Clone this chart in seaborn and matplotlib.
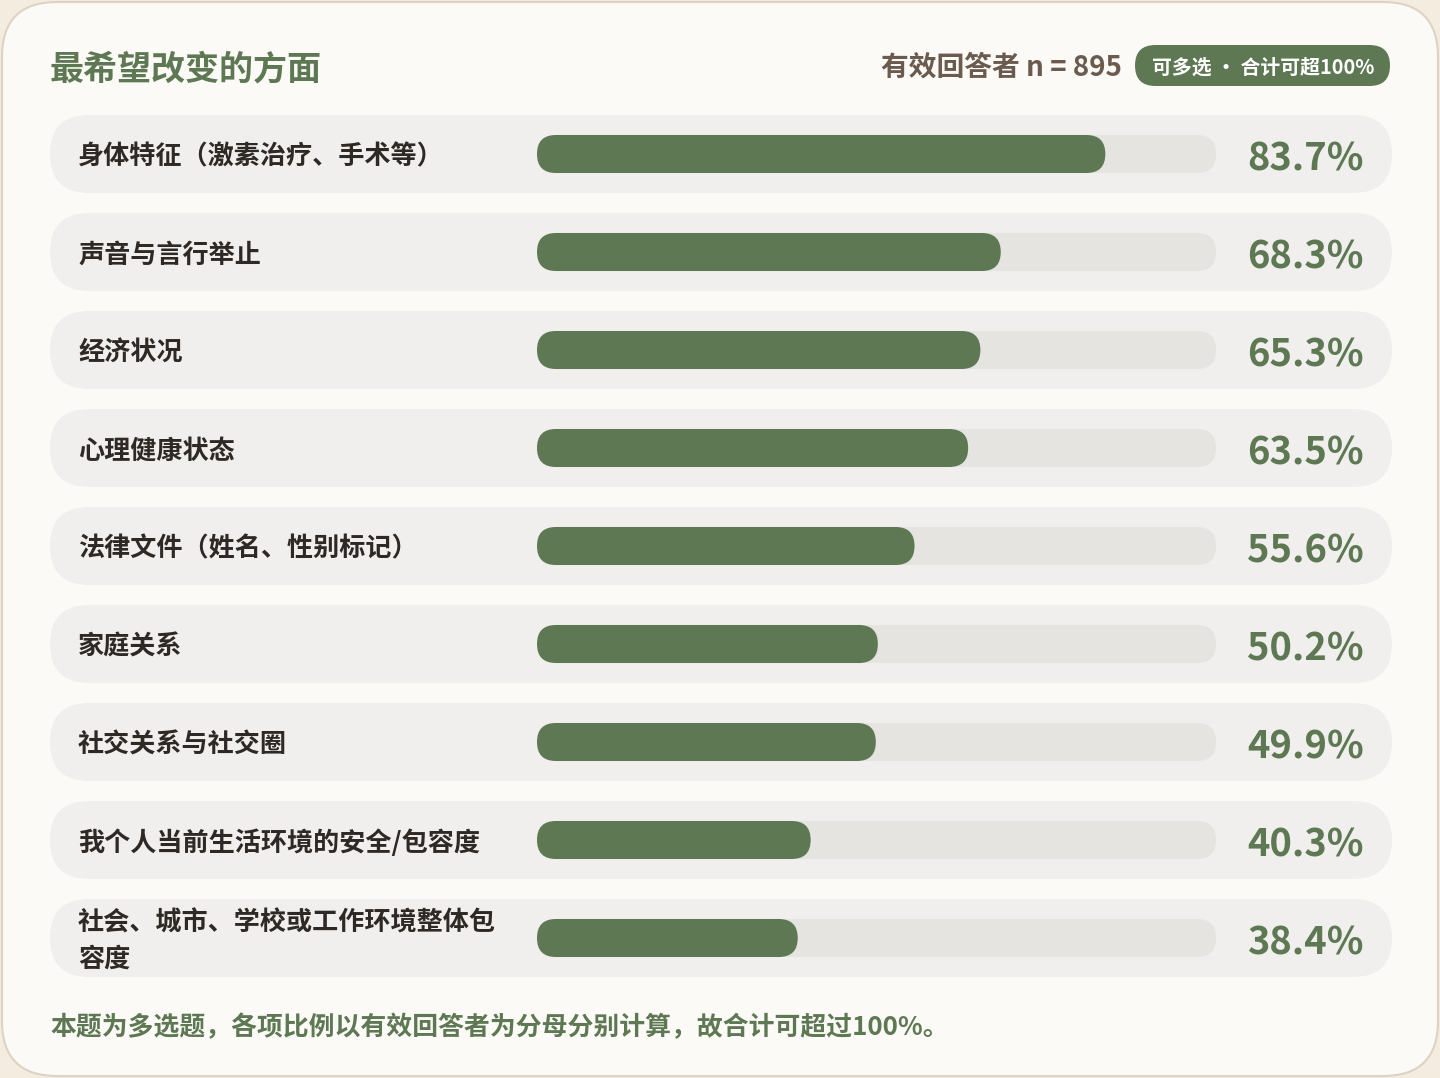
import textwrap
import matplotlib
matplotlib.use("Agg")
import matplotlib.pyplot as plt
from matplotlib.patches import FancyBboxPatch
import pandas as pd
import seaborn as sns

# data
categories = [
    "身体特征（激素治疗、手术等）",
    "声音与言行举止",
    "经济状况",
    "心理健康状态",
    "法律文件（姓名、性别标记）",
    "家庭关系",
    "社交关系与社交圈",
    "我个人当前生活环境的安全/包容度",
    "社会、城市、学校或工作环境整体包容度",
]
percent = [83.7, 68.3, 65.3, 63.5, 55.6, 50.2, 49.9, 40.3, 38.4]
n_valid = 895
title = "最希望改变的方面"
badge = "可多选 · 合计可超100%"
note = "本题为多选题，各项比例以有效回答者为分母分别计算，故合计可超过100%。"

GREEN = "#5d7853"
TRACK = "#e5e4e1"
ROW_BG = "#f0efed"
CARD = "#fbfaf7"
OUTER = "#f3ecdf"
EDGE = "#ddd3c4"
DARK = "#2e2924"
BROWN = "#6b5b4f"

W, H = 1440, 1078


def main():
    sns.set_theme(style="white")
    plt.rcParams["font.family"] = ["Noto Sans CJK SC", "DejaVu Sans"]
    plt.rcParams["font.weight"] = "bold"

    fig = plt.figure(figsize=(W / 100, H / 100), dpi=100)
    fig.patch.set_facecolor(OUTER)

    # background axes in pixel units (y down) for the card and the text
    bg = fig.add_axes([0, 0, 1, 1])
    bg.set_xlim(0, W)
    bg.set_ylim(H, 0)
    bg.axis("off")
    bg.add_patch(FancyBboxPatch((2, 2), W - 4, H - 4,
                                boxstyle="round,pad=0,rounding_size=55",
                                fc=CARD, ec=EDGE, lw=1.5))

    # bar axes: track spans 537..1216 px, rows 105..987 px
    left, right, top, bottom = 537, 1216, 105, 987
    ax = fig.add_axes([left / W, (H - bottom) / H, (right - left) / W, (bottom - top) / H])
    ax.patch.set_alpha(0)

    df = pd.DataFrame({"category": categories, "percent": percent, "full": 100})
    sns.barplot(data=df, x="full", y="category", color=TRACK, width=0.388,
                saturation=1, ax=ax)
    sns.barplot(data=df, x="percent", y="category", color=GREEN, width=0.388,
                saturation=1, ax=ax)
    ax.set_xlim(0, 100)
    ax.set_ylim(len(categories) - 0.5, -0.5)
    ax.axis("off")

    def to_px(x, y):
        dx, dy = ax.transData.transform((x, y))
        return dx, H - dy

    # row backgrounds, labels and values
    for i, (cat, val) in enumerate(zip(categories, percent)):
        _, cy = to_px(0, i)
        bg.add_patch(FancyBboxPatch((50, cy - 39), 1342, 78,
                                    boxstyle="round,pad=0,rounding_size=39",
                                    fc=ROW_BG, ec="none"))
        label = "\n".join(textwrap.wrap(cat, 16))
        bg.text(78, cy + 3, label, ha="left", va="center", fontsize=18.8,
                color=DARK, fontweight="bold", linespacing=1.42)
        bg.text(1364, cy + 5, f"{val:.1f}%", ha="right", va="center",
                fontsize=27.4, color=GREEN, fontweight="bold")

    # swap the flat bars for pill shapes of the same extent
    for p in list(ax.patches):
        x0, y0 = to_px(p.get_x(), p.get_y())
        x1, y1 = to_px(p.get_x() + p.get_width(), p.get_y() + p.get_height())
        px, py = min(x0, x1), min(y0, y1)
        pw, ph = abs(x1 - x0), abs(y1 - y0)
        pill = FancyBboxPatch((px, py), pw, ph,
                              boxstyle=f"round,pad=0,rounding_size={ph / 2}",
                              fc=p.get_facecolor(), ec="none",
                              transform=bg.transData, clip_on=False)
        ax.add_patch(pill)
        p.set_visible(False)

    # header
    bg.text(50, 69, title, ha="left", va="center", fontsize=24.5,
            color=GREEN, fontweight="bold")
    bg.text(1122, 68, f"有效回答者 n = {n_valid}", ha="right", va="center",
            fontsize=20, color=BROWN, fontweight="bold")
    bg.add_patch(FancyBboxPatch((1135, 45), 255, 41,
                                boxstyle="round,pad=0,rounding_size=20.5",
                                fc=GREEN, ec="none"))
    bg.text(1263, 67, badge, ha="center", va="center", fontsize=14.3,
            color="white", fontweight="bold")

    # footnote
    bg.text(50, 1028, note, ha="left", va="center", fontsize=18.6,
            color=GREEN, fontweight="bold")

    fig.savefig("out.png", dpi=100, facecolor=OUTER)


if __name__ == "__main__":
    main()
